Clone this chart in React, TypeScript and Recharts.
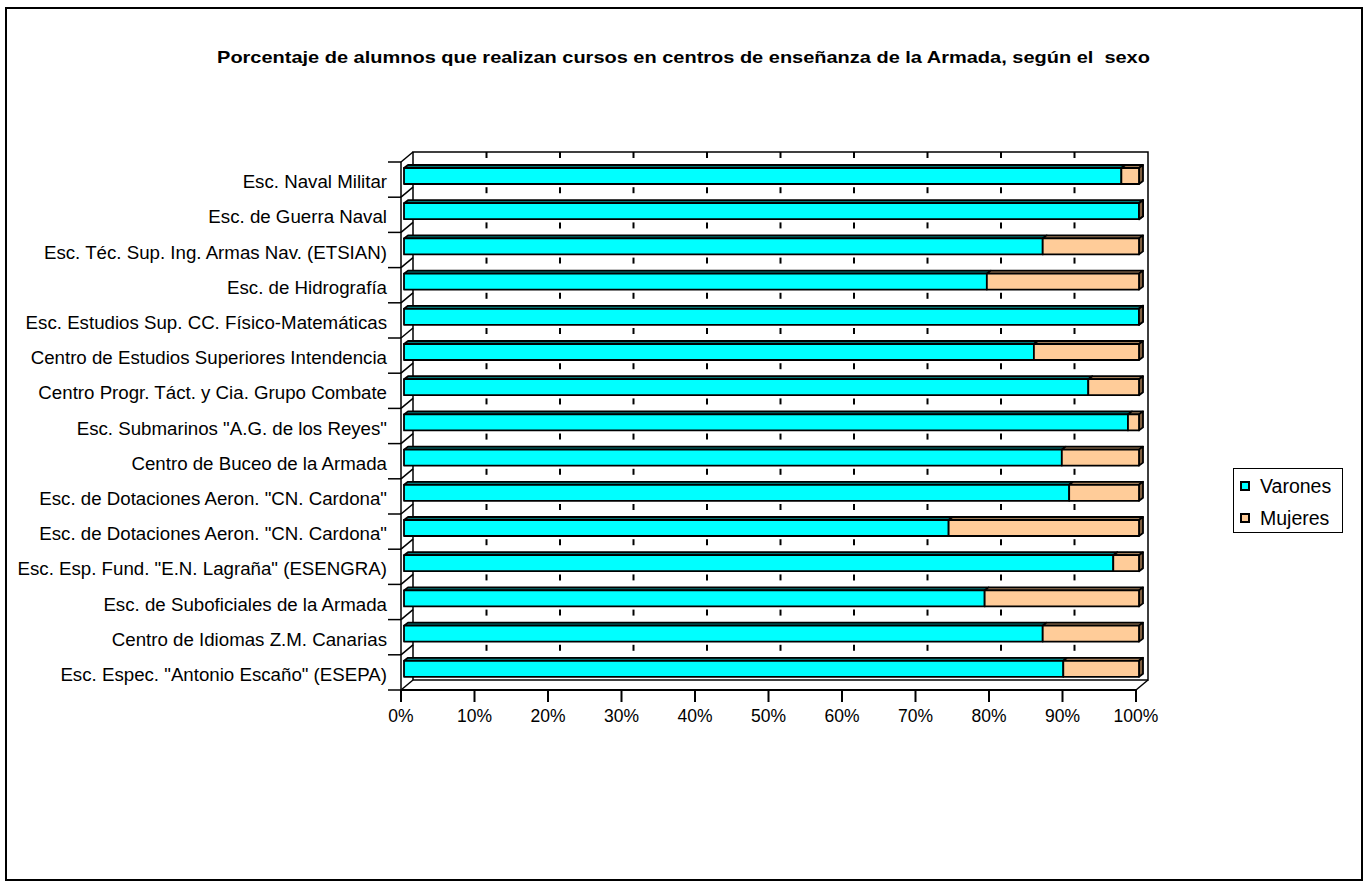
import React from 'react';
import { BarChart, Bar, XAxis, YAxis, Legend } from 'recharts';

const categories = [
  'Esc. Naval Militar',
  'Esc. de Guerra Naval',
  'Esc. Téc. Sup. Ing. Armas Nav. (ETSIAN)',
  'Esc. de Hidrografía',
  'Esc. Estudios Sup. CC. Físico-Matemáticas',
  'Centro de Estudios Superiores Intendencia',
  'Centro Progr. Táct. y Cia. Grupo Combate',
  'Esc. Submarinos "A.G. de los Reyes"',
  'Centro de Buceo de la Armada',
  'Esc. de Dotaciones Aeron. "CN. Cardona"',
  'Esc. de Dotaciones Aeron. "CN. Cardona"',
  'Esc. Esp. Fund. "E.N. Lagraña" (ESENGRA)',
  'Esc. de Suboficiales de la Armada',
  'Centro de Idiomas Z.M. Canarias',
  'Esc. Espec. "Antonio Escaño" (ESEPA)',
];

const varones = [97.6, 100, 86.9, 79.3, 100, 85.7, 93.1, 98.5, 89.5, 90.5, 74.1, 96.5, 79.0, 86.9, 89.7];
const mujeres = [2.4, 0, 13.1, 20.7, 0, 14.3, 6.9, 1.5, 10.5, 9.5, 25.9, 3.5, 21.0, 13.1, 10.3];

const xTicks = [0, 10, 20, 30, 40, 50, 60, 70, 80, 90, 100];
const seriesNames = ['Varones', 'Mujeres'];

const data = categories.map((name, i) => ({
  name,
  varones: varones[i],
  mujeres: mujeres[i],
}));

const W = 1367;
const H = 881;
const FONT = '"Liberation Sans", Arial, Helvetica, sans-serif';

// front plane of the 3d box
const PLOT = { left: 401, top: 162, right: 1136, bottom: 690 };
const DEPTH = { dx: 12, dy: -10 };
const BAR_SHIFT = { dx: 3, dy: -4 };
const FACE = { dx: 4, dy: -3 };

const COLORS = {
  varones: { front: '#00FFFF', top: '#007777', side: '#006060' },
  mujeres: { front: '#FFCC99', top: '#A07C58', side: '#7F5F40' },
};

function BackFrame() {
  const { left, top, right, bottom } = PLOT;
  const bl = left + DEPTH.dx;
  const br = right + DEPTH.dx;
  const bt = top + DEPTH.dy;
  const bb = bottom + DEPTH.dy;
  const band = (bottom - top) / categories.length;
  const bounds = Array.from({ length: categories.length + 1 }, (_, k) => top + k * band);
  const step = (right - left) / 100;

  return (
    <svg width={W} height={H} style={{ position: 'absolute', left: 0, top: 0 }}>
      <g stroke="#000" strokeWidth={1.5} fill="none">
        <polygon points={`${bl},${bt} ${br},${bt} ${br},${bb} ${bl},${bb}`} />
        <line x1={left} y1={bottom} x2={bl} y2={bb} />
        <line x1={right} y1={bottom} x2={br} y2={bb} />
        <line x1={left} y1={top} x2={left} y2={bottom} />
        {bounds.map((b, k) => (
          <g key={k}>
            <line x1={left - 13} y1={b} x2={left} y2={b} />
            {k < categories.length && <line x1={left} y1={b} x2={bl} y2={b + DEPTH.dy} />}
          </g>
        ))}
        {xTicks.slice(1, -1).map((t) =>
          bounds.slice(0, -1).map((b, k) => (
            <line
              key={`${t}-${k}`}
              x1={bl + t * step}
              x2={bl + t * step}
              y1={b - 10}
              y2={b - 4}
              strokeWidth={2}
            />
          ))
        )}
      </g>
    </svg>
  );
}

function Box3D(props: any) {
  const { x, y, width, height, colors, showSide } = props;
  if (x == null || y == null || !isFinite(width) || !isFinite(height)) return null;
  const X = x + BAR_SHIFT.dx;
  const Y = y + BAR_SHIFT.dy;
  const R = X + Math.max(width, 0);
  return (
    <g stroke="#000" strokeWidth={1.8} strokeLinejoin="round">
      <polygon
        points={`${X},${Y} ${X + FACE.dx},${Y + FACE.dy} ${R + FACE.dx},${Y + FACE.dy} ${R},${Y}`}
        fill={colors.top}
      />
      {showSide && (
        <polygon
          points={`${R},${Y} ${R + FACE.dx},${Y + FACE.dy} ${R + FACE.dx},${Y + height + FACE.dy} ${R},${Y + height}`}
          fill={COLORS.mujeres.side}
        />
      )}
      {width > 0 && <rect x={X} y={Y} width={width} height={height} fill={colors.front} />}
    </g>
  );
}

const renderLegend = () => (
  <div
    style={{
      position: 'relative',
      boxSizing: 'border-box',
      width: 110,
      height: 65,
      border: '1px solid #000',
      background: '#fff',
      fontFamily: FONT,
      fontSize: 19.5,
      color: '#000',
    }}
  >
    {seriesNames.map((n, i) => (
      <React.Fragment key={n}>
        <span
          style={{
            position: 'absolute',
            left: 6,
            top: 12 + i * 32,
            width: 10,
            height: 10,
            boxSizing: 'border-box',
            border: '2px solid #000',
            background: i === 0 ? COLORS.varones.front : COLORS.mujeres.front,
          }}
        />
        <span style={{ position: 'absolute', left: 26, top: 6 + i * 32, lineHeight: '22px', whiteSpace: 'nowrap' }}>
          {n}
        </span>
      </React.Fragment>
    ))}
  </div>
);

const CategoryTick = ({ x, y, payload }: any) => (
  <text x={x} y={y} dy={8.6} textAnchor="end" fontSize={18.7} fontFamily={FONT} fill="#000">
    {payload.value}
  </text>
);

export default function App() {
  return (
    <div style={{ position: 'absolute', left: 0, top: 0, width: W, height: H, background: '#fff', fontFamily: FONT }}>
      <div
        style={{
          position: 'absolute',
          left: 5,
          top: 7,
          width: 1358,
          height: 874,
          boxSizing: 'border-box',
          border: '2px solid #000',
        }}
      />
      <div
        style={{
          position: 'absolute',
          left: 0,
          top: 48,
          width: W,
          textAlign: 'center',
          fontWeight: 'bold',
          fontSize: 17,
          lineHeight: '20px',
          whiteSpace: 'pre',
          transform: 'scaleX(1.175)',
          transformOrigin: '683.5px 0',
        }}
      >
        Porcentaje de alumnos que realizan cursos en centros de enseñanza de la Armada, según el  sexo
      </div>
      <BackFrame />
      <div style={{ position: 'absolute', left: 0, top: 0 }}>
        <BarChart
          width={W}
          height={H}
          data={data}
          layout="vertical"
          margin={{ top: PLOT.top, right: W - PLOT.right, bottom: H - PLOT.bottom - 40, left: 0 }}
          barSize={16}
        >
          <XAxis
            type="number"
            domain={[0, 100]}
            ticks={xTicks}
            tickFormatter={(v) => `${v}%`}
            height={40}
            tickSize={12}
            tickMargin={8}
            axisLine={{ stroke: '#000', strokeWidth: 2 }}
            tickLine={{ stroke: '#000', strokeWidth: 2 }}
            tick={{ fontSize: 17.5, fill: '#000', fontFamily: FONT }}
          />
          <YAxis
            type="category"
            dataKey="name"
            width={PLOT.left}
            axisLine={false}
            tickLine={false}
            tickSize={8}
            tickMargin={6}
            interval={0}
            tick={<CategoryTick />}
          />
          <Legend
            layout="vertical"
            align="center"
            verticalAlign="middle"
            content={renderLegend}
            wrapperStyle={{ left: 1233, top: 468, width: 110, height: 65 }}
          />
          <Bar
            dataKey="varones"
            name="Varones"
            stackId="a"
            fill={COLORS.varones.front}
            isAnimationActive={false}
            shape={(p: any) => (
              <Box3D {...p} colors={COLORS.varones} showSide={p.payload && p.payload.mujeres === 0} />
            )}
          />
          <Bar
            dataKey="mujeres"
            name="Mujeres"
            stackId="a"
            fill={COLORS.mujeres.front}
            isAnimationActive={false}
            shape={(p: any) => <Box3D {...p} colors={COLORS.mujeres} showSide />}
          />
        </BarChart>
      </div>
    </div>
  );
}
